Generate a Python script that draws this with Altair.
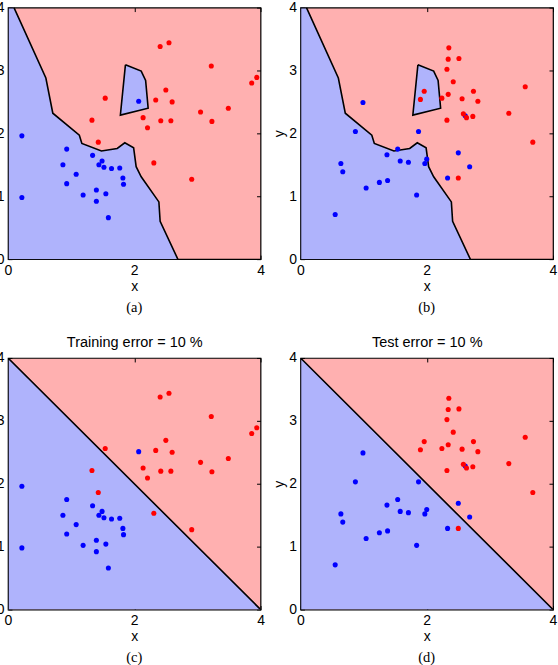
import altair as alt
import pandas as pd

# ---- data ----
train_blue_x = [0.22, 0.22, 0.93, 0.87, 1.08, 0.93, 1.34, 1.49, 1.44, 1.52, 1.64, 1.77, 1.82, 1.83, 1.19, 1.40, 1.55, 1.40, 1.59, 2.07]
train_blue_y = [1.96, 0.98, 1.75, 1.50, 1.35, 1.20, 1.65, 1.56, 1.50, 1.46, 1.44, 1.45, 1.29, 1.19, 1.02, 1.10, 1.04, 0.92, 0.66, 2.51]
train_red_x = [2.41, 2.55, 3.22, 3.86, 3.94, 2.50, 2.34, 2.60, 1.54, 1.33, 2.14, 2.42, 2.58, 2.21, 3.05, 3.23, 3.49, 1.43, 2.31, 2.91]
train_red_y = [3.38, 3.44, 3.07, 2.80, 2.89, 2.69, 2.53, 2.50, 2.56, 2.21, 2.25, 2.20, 2.20, 2.09, 2.34, 2.19, 2.40, 1.86, 1.53, 1.27]

test_blue_x = [0.99, 0.87, 0.64, 0.67, 0.55, 1.04, 1.25, 1.38, 1.37, 1.54, 1.58, 1.71, 1.87, 1.84, 1.97, 2.00, 2.33, 2.50, 2.68, 2.61]
test_blue_y = [2.49, 2.03, 1.52, 1.39, 0.71, 1.13, 1.22, 1.25, 1.66, 1.75, 1.56, 1.54, 2.03, 1.02, 1.52, 1.59, 1.29, 1.69, 1.47, 2.28]
test_red_x = [2.35, 2.34, 2.51, 2.32, 2.42, 1.96, 1.90, 2.24, 2.34, 2.56, 2.74, 2.81, 2.58, 2.63, 2.73, 2.32, 3.56, 3.30, 3.68, 2.50]
test_red_y = [3.36, 3.18, 3.19, 3.02, 2.82, 2.67, 2.54, 2.56, 2.62, 2.55, 2.67, 2.51, 2.31, 2.25, 2.27, 2.21, 2.74, 2.32, 1.86, 1.29]

# nearest-neighbour decision boundary (blue region lies below/left)
nn_boundary_x = [0.095, 0.60, 0.71, 1.13, 1.17, 1.48, 1.73, 1.85, 1.99, 2.03, 2.11, 2.39, 2.41, 2.69]
nn_boundary_y = [4.00, 2.88, 2.32, 1.97, 1.84, 1.72, 1.76, 1.85, 1.77, 1.47, 1.31, 0.91, 0.60, 0.00]
# blue island inside the red region (closed outline)
island_x = [1.86, 2.11, 2.18, 2.22, 1.78, 1.86]
island_y = [3.09, 2.99, 2.84, 2.40, 2.29, 3.09]
# linear decision boundary
lin_boundary_x = [0.0, 4.0]
lin_boundary_y = [4.0, 0.0]

x_ticks = [0, 2, 4]
y_ticks = [0, 1, 2, 3, 4]
domain = [0, 4]

BLUE_BG = "#afb3fc"
RED_BG = "#ffb0b0"
BLUE_PT = "#0000ff"
RED_PT = "#ff0000"


def points_df(bx, by, rx, ry):
    rows = []
    k = 0
    for x, y in zip(bx, by):
        rows.append({"x": x, "y": y, "cls": "blue", "k": k}); k += 1
    for x, y in zip(rx, ry):
        rows.append({"x": x, "y": y, "cls": "red", "k": k}); k += 1
    return pd.DataFrame(rows)


def polygon_df(px, py):
    return pd.DataFrame({"x": px, "y": py, "i": list(range(len(px)))})


nn_region = polygon_df([domain[0], domain[0]] + nn_boundary_x, [domain[0], domain[1]] + nn_boundary_y)
lin_region = polygon_df([domain[0]] + lin_boundary_x, [domain[0]] + lin_boundary_y)
island = polygon_df(island_x, island_y)

train = points_df(train_blue_x, train_blue_y, train_red_x, train_red_y)
test = points_df(test_blue_x, test_blue_y, test_red_x, test_red_y)

W, H = 253, 252


def panel(pts, region, extra, top_title, caption):
    xs = alt.Scale(domain=domain, nice=False, zero=False)
    ys = alt.Scale(domain=domain, nice=False, zero=False)
    ax_x = alt.Axis(values=x_ticks, title="x", offset=-4, tickSize=4, domain=False,
                    labelPadding=4, grid=False, titlePadding=2, labelFlush=False)
    ax_y = alt.Axis(values=y_ticks, title="y", offset=-4, tickSize=4, domain=False,
                    labelPadding=4, grid=False, titlePadding=2, labelFlush=False)
    layers = [
        alt.Chart(region).mark_line(fill=BLUE_BG, stroke="black", strokeWidth=1.6, clip=True).encode(
            x=alt.X("x:Q", scale=xs, axis=ax_x),
            y=alt.Y("y:Q", scale=ys, axis=ax_y),
            order=alt.Order("i:Q"),
        )
    ]
    if extra is not None:
        layers.append(
            alt.Chart(extra).mark_line(fill=BLUE_BG, stroke="black", strokeWidth=1.6, clip=True).encode(
                x=alt.X("x:Q", scale=xs, axis=None),
                y=alt.Y("y:Q", scale=ys, axis=None),
                order=alt.Order("i:Q"),
            )
        )
    top_axis_kw = dict(orient="top", values=x_ticks, labels=False, offset=-4, tickSize=4,
                       domain=False, grid=False)
    if top_title:
        top_axis_kw.update(title=top_title, titlePadding=8, titleFontSize=14.5)
    else:
        top_axis_kw.update(title=None)
    layers.append(
        alt.Chart(pts).mark_circle(size=26, opacity=1).encode(
            x=alt.X("x:Q", scale=xs, axis=alt.Axis(**top_axis_kw)),
            y=alt.Y("y:Q", scale=ys, axis=alt.Axis(orient="right", values=y_ticks, labels=False,
                                                   offset=-4, tickSize=4, domain=False,
                                                   grid=False, title=None)),
            color=alt.Color("cls:N", scale=alt.Scale(domain=["blue", "red"], range=[BLUE_PT, RED_PT]),
                            legend=None),
            order=alt.Order("k:Q"),
        )
    )
    return alt.layer(*layers).resolve_axis(x="independent", y="independent").properties(
        width=W, height=H,
        title=alt.TitleParams(caption, orient="bottom", font="Liberation Serif", fontSize=14.5,
                              fontWeight="normal", offset=8, color="black"),
    )


a = panel(train, nn_region, island, None, "(a)")
b = panel(test, nn_region, island, None, "(b)")
c = panel(train, lin_region, None, "Training error = 10 %", "(c)")
d = panel(test, lin_region, None, "Test error = 10 %", "(d)")

chart = alt.vconcat(
    alt.hconcat(a, b, spacing=6),
    alt.hconcat(c, d, spacing=6),
    spacing=17,
).properties(
    padding={"left": -21, "top": -1, "right": 0, "bottom": 0}
).configure_view(
    fill=RED_BG, stroke="black", strokeWidth=1.2
).configure_axis(
    labelFont="Liberation Sans", labelFontSize=14, labelColor="black",
    titleFont="Liberation Sans", titleFontSize=14, titleFontWeight="normal", titleColor="black",
    tickColor="black", tickWidth=1,
).configure_title(anchor="middle")

chart.save("out.html", embed_options={"renderer": "svg", "actions": False})
